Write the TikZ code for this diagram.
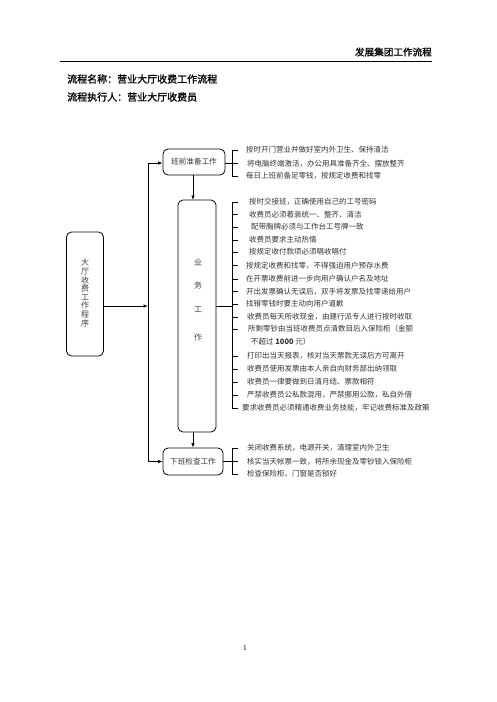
\documentclass[tikz,border=0pt]{standalone}
\usepackage{fontspec}
\newfontfamily\cjk{Noto Sans CJK SC}
\newfontfamily\cjkb{Noto Sans CJK SC}[FakeBold=1.2]
\usetikzlibrary{arrows.meta}
\begin{document}
\begin{tikzpicture}[x=1pt,y=-1pt,
  box/.style={draw,line width=0.8pt,rounded corners=5pt,inner sep=0pt,font=\cjk\fontsize{7.6}{9}\selectfont,text=black!80},
  item/.style={anchor=west,inner sep=0pt,font=\cjk\fontsize{7.5}{9}\selectfont,text=black!80},
  conn/.style={line width=0.8pt},
  arr/.style={line width=0.8pt,-{Latex[length=4.5pt,width=3.5pt]}},
  title/.style={anchor=west,inner sep=0pt,font=\cjkb\fontsize{10}{12}\selectfont}]
\useasboundingbox (0,0) rectangle (496,702);
% header
\node[anchor=east,inner sep=0pt,font=\cjkb\fontsize{9.6}{11}\selectfont] (hdr) at (432,52) {发展集团工作流程};
\coordinate (hl) at (60,61);
\coordinate (hr) at (432,61);
\draw[line width=1pt] (hl) -- (hr);
\node[title] (t1) at (67,79) {流程名称：营业大厅收费工作流程};
\node[title] (t2) at (67,97) {流程执行人：营业大厅收费员};
% boxes
\node[box,minimum width=37pt,minimum height=124pt] (left) at (85,294) {};
\node[font=\cjk\fontsize{8}{8.6}\selectfont,text=black!75,align=center,inner sep=0pt] (lefttxt) at (85,293)
  {大\\厅\\收\\费\\工\\作\\程\\序};
\node[box,minimum width=62pt,minimum height=26pt] (pre) at (194,162) {班前准备工作};
\node[box,minimum width=38pt,minimum height=232pt] (biz) at (197,316) {};
\node[font=\cjk\fontsize{8}{9.6}\selectfont,text=black!75,inner sep=0pt] (b1) at (198,262) {业};
\node[font=\cjk\fontsize{8}{9.6}\selectfont,text=black!75,inner sep=0pt] (b2) at (198,285) {务};
\node[font=\cjk\fontsize{8}{9.6}\selectfont,text=black!75,inner sep=0pt] (b3) at (198,310) {工};
\node[font=\cjk\fontsize{8}{9.6}\selectfont,text=black!75,inner sep=0pt] (b4) at (198,337) {作};
\node[box,minimum width=60pt,minimum height=27pt] (post) at (193,461.5) {下班检查工作};
% main connectors
\coordinate (vtop) at (148,163);
\coordinate (vmid) at (148,306);
\coordinate (vbot) at (148,461.5);
\draw[arr] (left.east |- vmid) -- (vmid);
\draw[conn] (vtop) -- (vbot);
\draw[arr] (vtop) -- (pre.west |- vtop);
\draw[arr] (vbot) -- (post.west);
\draw[arr] (193,175) -- (193,200);
\draw[arr] (193,432) -- (post.north -| 193,0);
% top bracket
\coordinate (p0) at (232,163);
\draw[conn] (pre.east |- p0) -- (p0);
\draw[conn] (232,150) -- (232,176);
\foreach \y in {150,163,176} \draw[conn] (232,\y) -- (238,\y);
\node[item] (p1) at (246,150) {按时开门营业并做好室内外卫生、保持清洁};
\node[item] (p2) at (247,163.5) {将电脑终端激活，办公用具准备齐全、摆放整齐};
\node[item] (p3) at (246,176) {每日上班前备足零钱，按规定收费和找零};
% business bracket
\coordinate (m0) at (232,306);
\draw[conn] (biz.east |- m0) -- (m0);
\draw[conn] (232,202) -- (232,408);
\foreach \y in {202,214.5,227,240,252,265.5,279,291.5,304,317,329,356,369,382,395,408}
  \draw[conn] (232,\y) -- (238,\y);
\node[item] (i1) at (249,202) {按时交接班，正确使用自己的工号密码};
\node[item] (i2) at (249,214.5) {收费员必须着装统一、整齐、清洁};
\node[item] (i3) at (251,227) {配带胸牌必须与工作台工号牌一致};
\node[item] (i4) at (249,240) {收费员要求主动热情};
\node[item] (i5) at (249,252) {按规定收付款项必须唱收唱付};
\node[item] (i6) at (246,265.5) {按规定收费和找零，不得强迫用户预存水费};
\node[item] (i7) at (246,279) {在开票收费前进一步向用户确认户名及地址};
\node[item] (i8) at (246,291.5) {开出发票确认无误后，双手将发票及找零递给用户};
\node[item] (i9) at (246,304) {找错零钱时要主动向用户道歉};
\node[item] (i10) at (247,317) {收费员每天所收现金，由建行派专人进行按时收取};
\node[item] (i11) at (248,329) {所剩零钞由当班收费员点清数目后入保险柜（金额};
\node[item] (i11b) at (251,342) {不超过 \textbf{1000} 元）};
\node[item] (i12) at (247,356) {打印出当天报表，核对当天票款无误后方可离开};
\node[item] (i13) at (247,369) {收费员使用发票由本人亲自向财务部出纳领取};
\node[item] (i14) at (247,382) {收费员一律要做到日清月结、票款相符};
\node[item] (i15) at (247,395) {严禁收费员公私款混用，严禁挪用公款，私自外借};
\node[item] (i16) at (242,408) {要求收费员必须精通收费业务技能，牢记收费标准及政策};
% bottom bracket
\coordinate (q0) at (232,461.5);
\draw[conn] (post.east) -- (q0);
\draw[conn] (232,448) -- (232,474);
\foreach \y in {448,461.5,474} \draw[conn] (232,\y) -- (238,\y);
\node[item] (q1) at (247,448) {关闭收费系统，电源开关，清理室内外卫生};
\node[item] (q2) at (247,461.5) {核实当天帐票一致，将所余现金及零钞锁入保险柜};
\node[item] (q3) at (247,474) {检查保险柜、门窗是否锁好};
% page number
\node[inner sep=0pt,font=\fontsize{8}{9}\selectfont] (pg) at (245,648) {1};
\end{tikzpicture}
\end{document}
